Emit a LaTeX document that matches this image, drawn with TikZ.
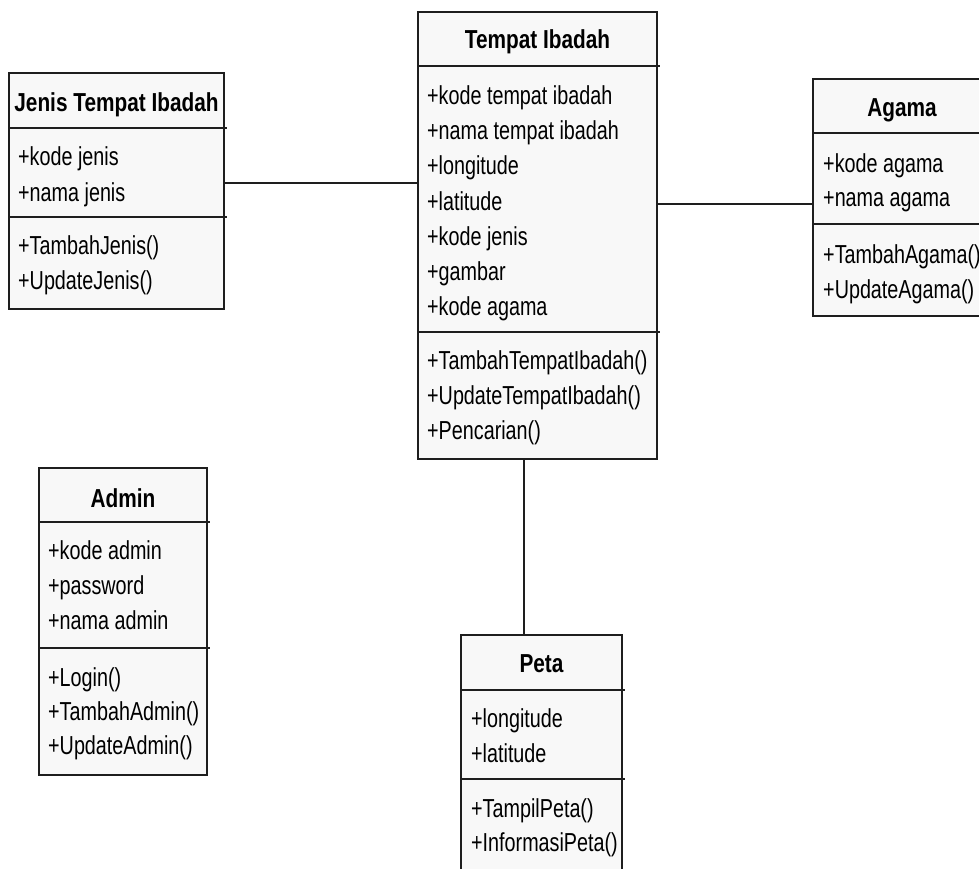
\documentclass[tikz,border=0pt]{standalone}
\usepackage{fontspec}
\setmainfont{Liberation Sans}[FakeStretch=0.76]
\newfontfamily\titlefont{Liberation Sans}[FakeStretch=0.8]
\definecolor{boxfill}{HTML}{F8F8F8}
\definecolor{boxline}{HTML}{1E1E1E}
\tikzset{
  classbox/.style={draw=boxline, line width=2pt, fill=boxfill, anchor=north west, inner sep=0pt, outer sep=0pt},
  sepline/.style={draw=boxline, line width=2pt},
  conn/.style={draw=boxline, line width=1.8pt},
  attr/.style={anchor=base west, inner sep=0pt, font=\fontsize{26}{30}\selectfont},
  ttl/.style={anchor=base, inner sep=0pt, font=\titlefont\bfseries\fontsize{26}{30}\selectfont}
}
\newcommand{\umlsep}[2]{\draw[sepline] ([yshift=-#2pt]#1.north west) -- ([yshift=-#2pt,xshift=2.5pt]#1.north east);}
\begin{document}
\begin{tikzpicture}[x=1pt,y=-1pt]
\useasboundingbox (0,0) rectangle (979,869);
\clip (0,0) rectangle (979,869);
% boxes
\node[classbox, minimum width=215pt, minimum height=236pt] (jenis) at (9,73) {};
\node[classbox, minimum width=239pt, minimum height=447pt] (tempat) at (418,12) {};
\node[classbox, minimum width=178pt, minimum height=237pt] (agama) at (813,79) {};
\node[classbox, minimum width=168pt, minimum height=307pt] (admin) at (39,468) {};
\node[classbox, minimum width=161pt, minimum height=270pt] (peta) at (461,635) {};
% separators
\umlsep{jenis}{55}
\umlsep{jenis}{144}
\umlsep{tempat}{54}
\umlsep{tempat}{320}
\umlsep{agama}{54}
\umlsep{agama}{145}
\umlsep{admin}{54}
\umlsep{admin}{180}
\umlsep{peta}{55}
\umlsep{peta}{144}
% Jenis Tempat Ibadah
\node[ttl] (jenis-t) at (116.5,112) {Jenis Tempat Ibadah};
\node[attr] (jenis-a1) at (18,166) {+kode jenis};
\node[attr] (jenis-a2) at (18,201) {+nama jenis};
\node[attr] (jenis-m1) at (18,254) {+TambahJenis()};
\node[attr] (jenis-m2) at (18,289) {+UpdateJenis()};
% Tempat Ibadah
\node[ttl] (tempat-t) at (537.5,49) {Tempat Ibadah};
\node[attr] (tempat-a1) at (427,105) {+kode tempat ibadah};
\node[attr] (tempat-a2) at (427,140) {+nama tempat ibadah};
\node[attr] (tempat-a3) at (427,175) {+longitude};
\node[attr] (tempat-a4) at (427,210) {+latitude};
\node[attr] (tempat-a5) at (427,245) {+kode jenis};
\node[attr] (tempat-a6) at (427,280) {+gambar};
\node[attr] (tempat-a7) at (427,315) {+kode agama};
\node[attr] (tempat-m1) at (427,369) {+TambahTempatIbadah()};
\node[attr] (tempat-m2) at (427,404) {+UpdateTempatIbadah()};
\node[attr] (tempat-m3) at (427,439) {+Pencarian()};
% Agama
\node[ttl] (agama-t) at (902,117) {Agama};
\node[attr] (agama-a1) at (823,172) {+kode agama};
\node[attr] (agama-a2) at (823,207) {+nama agama};
\node[attr] (agama-m1) at (823,263) {+TambahAgama()};
\node[attr] (agama-m2) at (823,298) {+UpdateAgama()};
% Admin
\node[ttl] (admin-t) at (123,507) {Admin};
\node[attr] (admin-a1) at (48,559) {+kode admin};
\node[attr] (admin-a2) at (48,594) {+password};
\node[attr] (admin-a3) at (48,629) {+nama admin};
\node[attr] (admin-m1) at (48,686) {+Login()};
\node[attr] (admin-m2) at (48,720) {+TambahAdmin()};
\node[attr] (admin-m3) at (48,754) {+UpdateAdmin()};
% Peta
\node[ttl] (peta-t) at (541.5,672) {Peta};
\node[attr] (peta-a1) at (471,727) {+longitude};
\node[attr] (peta-a2) at (471,762) {+latitude};
\node[attr] (peta-m1) at (471,817) {+TampilPeta()};
\node[attr] (peta-m2) at (471,851) {+InformasiPeta()};
% connectors
\coordinate (c1) at (0,183);
\coordinate (c2) at (0,204);
\coordinate (c3) at (524,0);
\draw[conn] (jenis.east |- c1) -- (tempat.west |- c1);
\draw[conn] (tempat.east |- c2) -- (agama.west |- c2);
\draw[conn] (tempat.south -| c3) -- (peta.north -| c3);
\end{tikzpicture}
\end{document}
